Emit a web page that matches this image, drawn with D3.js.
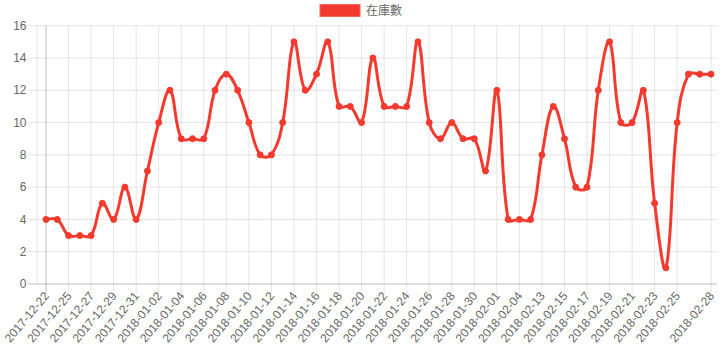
<!DOCTYPE html>
<meta charset="utf-8">
<script src="https://d3js.org/d3.v7.min.js"></script>
<style>
    body { margin: 0; background: #fff; }
    svg { display: block; }
    text {
        font-family: "Helvetica Neue", Helvetica, Arial, "Liberation Sans", "Noto Sans CJK TC", sans-serif;
        font-size: 12px;
        fill: #666;
    }
    .grid line { stroke: rgba(0,0,0,0.1); stroke-width: 1; }
    .grid line.zero { stroke: rgba(0,0,0,0.25); }
    .line { fill: none; stroke: #f33a2f; stroke-width: 3; }
    .dot { fill: #f33a2f; stroke: #f33a2f; stroke-width: 1; }
</style>
<div id="chart"></div>
<script>
// dates of each point (odd ones are hidden by the auto skip, like the original)
const dates = [
    "2017-12-22", "2017-12-23", "2017-12-25", "2017-12-26", "2017-12-27", "2017-12-28",
    "2017-12-29", "2017-12-30", "2017-12-31", "2018-01-01", "2018-01-02", "2018-01-03",
    "2018-01-04", "2018-01-05", "2018-01-06", "2018-01-07", "2018-01-08", "2018-01-09",
    "2018-01-10", "2018-01-11", "2018-01-12", "2018-01-13", "2018-01-14", "2018-01-15",
    "2018-01-16", "2018-01-17", "2018-01-18", "2018-01-19", "2018-01-20", "2018-01-21",
    "2018-01-22", "2018-01-23", "2018-01-24", "2018-01-25", "2018-01-26", "2018-01-27",
    "2018-01-28", "2018-01-29", "2018-01-30", "2018-01-31", "2018-02-01", "2018-02-02",
    "2018-02-04", "2018-02-12", "2018-02-13", "2018-02-14", "2018-02-15", "2018-02-16",
    "2018-02-17", "2018-02-18", "2018-02-19", "2018-02-20", "2018-02-21", "2018-02-22",
    "2018-02-23", "2018-02-24", "2018-02-25", "2018-02-26", "2018-02-27", "2018-02-28"
];
const stock = [
    4, 4, 3, 3, 3, 5, 4, 6, 4, 7, 10, 12, 9, 9, 9, 12, 13, 12, 10, 8,
    8, 10, 15, 12, 13, 15, 11, 11, 10, 14, 11, 11, 11, 15, 10, 9, 10, 9, 9, 7,
    12, 4, 4, 4, 8, 11, 9, 6, 6, 12, 15, 10, 10, 12, 5, 1, 10, 13, 13, 13
];
const seriesName = "在庫數";
const yTicks = [0, 2, 4, 6, 8, 10, 12, 14, 16];

const W = 722, H = 345;
const area = {left: 37, right: 717, top: 25.7, bottom: 284};
const firstX = 46, lastX = 711;
const tickLen = 9;

const svg = d3.select("#chart").append("svg")
    .attr("width", W)
    .attr("height", H);

const x = d3.scalePoint().domain(dates).range([firstX, lastX]).padding(0);
const y = d3.scaleLinear().domain([0, 16]).range([area.bottom, area.top]);

// labels shown: every second one, the last one always, one before it dropped
const shown = dates.filter((d, i) => (i % 2 === 0 && i + 2 < dates.length) || i === dates.length - 1);

// horizontal grid
const grid = svg.append("g").attr("class", "grid");
grid.selectAll("line.h").data(yTicks).enter().append("line")
    .attr("class", d => d === 0 ? "h zero" : "h")
    .attr("x1", area.left - tickLen).attr("x2", area.right)
    .attr("y1", d => y(d)).attr("y2", d => y(d));

// y axis border
grid.append("line")
    .attr("x1", area.left).attr("x2", area.left)
    .attr("y1", area.top).attr("y2", area.bottom);

// vertical grid
grid.selectAll("line.v").data(shown).enter().append("line")
    .attr("class", (d, i) => i === 0 ? "v zero" : "v")
    .attr("x1", d => x(d)).attr("x2", d => x(d))
    .attr("y1", area.top).attr("y2", area.bottom + tickLen + 1);

// y labels
svg.append("g").selectAll("text").data(yTicks).enter().append("text")
    .attr("x", area.left - tickLen - 1.5)
    .attr("y", d => y(d))
    .attr("dy", "0.35em")
    .attr("text-anchor", "end")
    .text(d => d);

// x labels
svg.append("g").selectAll("text").data(shown).enter().append("text")
    .attr("transform", d => "translate(" + (x(d) + 0.5) + "," + (area.bottom + tickLen + 0.5) + ") rotate(-50)")
    .attr("dy", "0.35em")
    .attr("text-anchor", "end")
    .text(d => d);

// same spline as chart.js (tension 0.4, distance weighted, capped to area)
function chartSpline(context) {
    let pts;
    const t = 0.4;
    const cap = (p) => ({
        x: Math.max(area.left, Math.min(area.right, p.x)),
        y: Math.max(area.top, Math.min(area.bottom, p.y))
    });
    return {
        areaStart() {}, areaEnd() {},
        lineStart() { pts = []; },
        point(px, py) { pts.push({x: +px, y: +py}); },
        lineEnd() {
            const n = pts.length;
            if (!n) return;
            pts.forEach((cur, i) => {
                const prev = pts[Math.max(0, i - 1)];
                const next = pts[Math.min(n - 1, i + 1)];
                const d01 = Math.hypot(cur.x - prev.x, cur.y - prev.y);
                const d12 = Math.hypot(next.x - cur.x, next.y - cur.y);
                let s01 = d01 / (d01 + d12), s12 = d12 / (d01 + d12);
                if (isNaN(s01)) s01 = 0;
                if (isNaN(s12)) s12 = 0;
                const fa = t * s01, fb = t * s12;
                cur.cp1 = cap({x: cur.x - fa * (next.x - prev.x), y: cur.y - fa * (next.y - prev.y)});
                cur.cp2 = cap({x: cur.x + fb * (next.x - prev.x), y: cur.y + fb * (next.y - prev.y)});
            });
            context.moveTo(pts[0].x, pts[0].y);
            for (let i = 1; i < n; i++) {
                const a = pts[i - 1], b = pts[i];
                context.bezierCurveTo(a.cp2.x, a.cp2.y, b.cp1.x, b.cp1.y, b.x, b.y);
            }
        }
    };
}

const data = dates.map((d, i) => ({date: d, value: stock[i]}));

const line = d3.line()
    .x(d => x(d.date))
    .y(d => y(d.value))
    .curve(chartSpline);

svg.append("path")
    .datum(data)
    .attr("class", "line")
    .attr("d", line);

svg.append("g").selectAll("circle").data(data).enter().append("circle")
    .attr("class", "dot")
    .attr("cx", d => x(d.date))
    .attr("cy", d => y(d.value))
    .attr("r", 3);

// legend
const legend = svg.append("g");
const lt = legend.append("text")
    .attr("y", 10.5)
    .attr("dy", "0.35em")
    .text(seriesName);
const tw = lt.node().getComputedTextLength();
const lx = W / 2 - (40 + 6 + tw) / 2;
legend.insert("rect", "text")
    .attr("x", lx).attr("y", 4.5)
    .attr("width", 40).attr("height", 12)
    .attr("fill", "#f33a2f")
    .attr("stroke", "#f5675f")
    .attr("stroke-width", 1);
lt.attr("x", lx + 46);
</script>
